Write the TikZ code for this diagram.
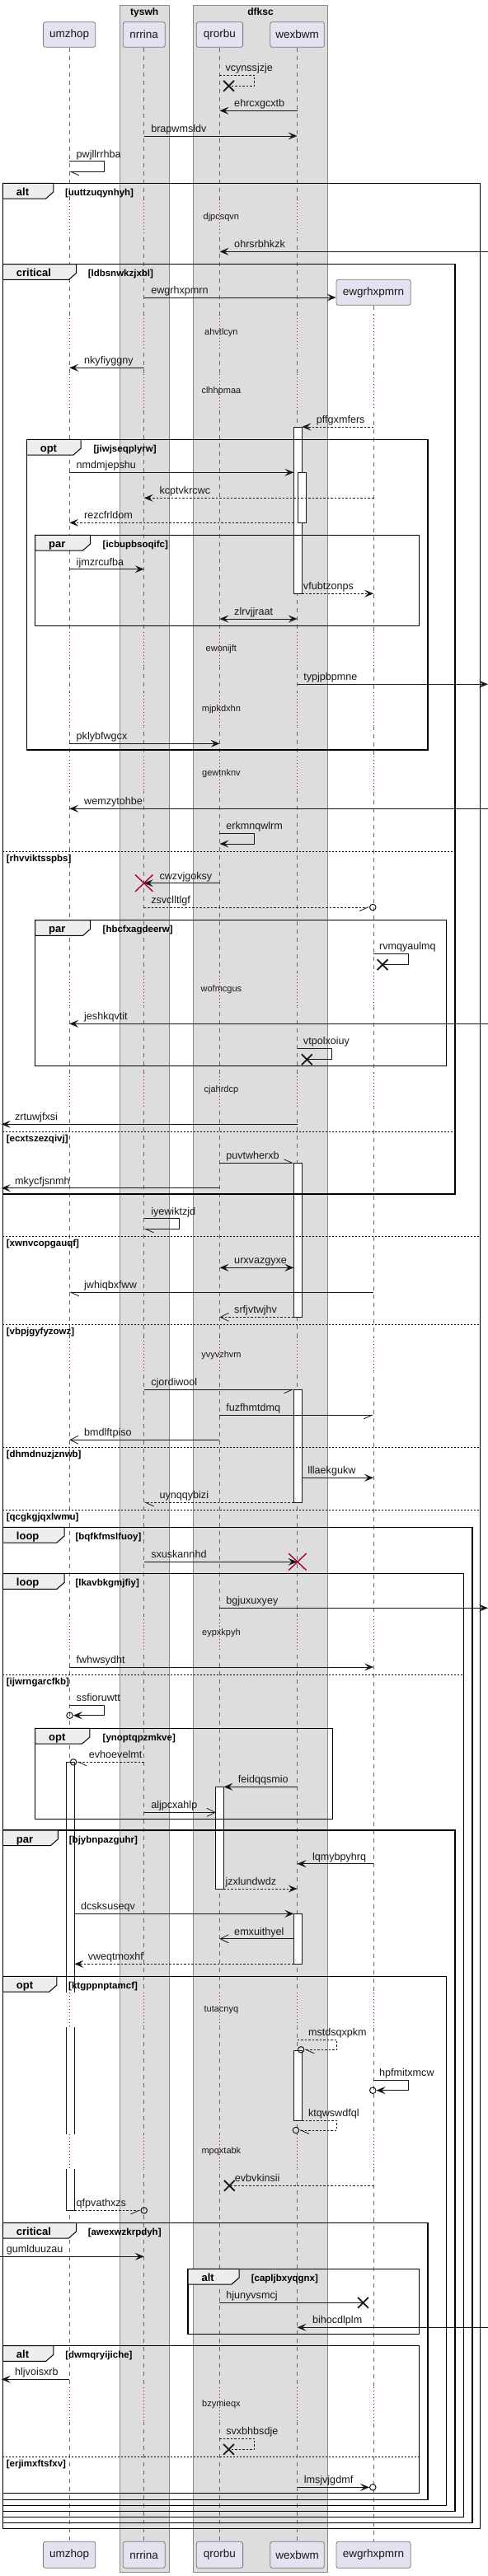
\documentclass[tikz,border=0pt]{standalone}
\usepackage{fontspec}
\setmainfont{Liberation Sans}
\usetikzlibrary{arrows.meta, positioning, calc, shapes.misc}

\definecolor{ink}{HTML}{181818}
\definecolor{partfill}{HTML}{E2E2F0}
\definecolor{partline}{HTML}{7A7A7A}
\definecolor{boxfill}{HTML}{DDDDDD}
\definecolor{boxline}{HTML}{8A8A8A}
\definecolor{tabfill}{HTML}{EEEEEE}
\definecolor{lifegray}{HTML}{666666}
\definecolor{crimson}{HTML}{A80036}

\tikzset{
  fulltip/.tip={Stealth[length=11pt, width=9pt, inset=4.5pt]},
  thintip/.tip={Straight Barb[length=10pt, width=10pt]},
  halfL/.tip={Straight Barb[length=10pt, width=9pt, harpoon]},
  halfR/.tip={Straight Barb[length=10pt, width=9pt, harpoon, swap]},
  msg/.style={draw=ink, line width=0.8pt},
  dsh/.style={dash pattern=on 2.5pt off 2pt},
  callF/.style={msg, -{fulltip}},
  retF/.style={msg, dsh, -{fulltip}},
  callO/.style={msg, -{thintip}},
  retO/.style={msg, dsh, -{thintip}},
  callHL/.style={msg, -{halfL}},
  callHR/.style={msg, -{halfR}},
  retHL/.style={msg, dsh, -{halfL}},
  retHR/.style={msg, dsh, -{halfR}},
  bothF/.style={msg, {fulltip}-{fulltip}},
  msglbl/.style={anchor=base west, inner sep=0pt, text=ink, font=\fontsize{12.6}{14}\selectfont},
  part/.style={draw=partline, fill=partfill, rounded corners=2.5pt, line width=0.8pt,
    inner sep=0pt, text=ink, font=\fontsize{13.5}{15}\selectfont},
  lifeline/.style={draw=lifegray, line width=0.6pt, dash pattern=on 5pt off 5pt},
  delayline/.style={draw=crimson, line width=0.8pt, dash pattern=on 1pt off 3pt},
  delaytxt/.style={inner sep=0pt, text=ink, font=\fontsize{11}{13}\selectfont},
  actbox/.style={draw=ink, fill=white, line width=0.8pt},
  grpframe/.style={draw=black, line width=1.4pt},
  grptab/.style={draw=black, fill=tabfill, line width=1pt},
  kw/.style={anchor=base west, inner sep=0pt, font=\bfseries\fontsize{13}{15}\selectfont},
  cond/.style={anchor=base west, inner sep=0pt, font=\bfseries\fontsize{11.5}{13}\selectfont},
  elseline/.style={draw=black, line width=0.8pt, dash pattern=on 2pt off 2pt},
  boxbg/.style={draw=boxline, fill=boxfill, line width=0.8pt},
  boxtitle/.style={anchor=base, inner sep=0pt, font=\bfseries\fontsize{12}{14}\selectfont},
  xmark/.style={cross out, draw=ink, line width=1.8pt, minimum width=11pt, minimum height=11pt, inner sep=0pt},
  destroy/.style={cross out, draw=crimson, line width=1.4pt, minimum width=20pt, minimum height=19pt, inner sep=0pt},
  ring/.style={circle, draw=ink, line width=1pt, minimum size=7.5pt, inner sep=0pt},
}

% message: style, from, to, y, label x, text
\newcommand{\msg}[6]{%
  \draw[#1] (#2 |- 0,#4) -- (#3 |- 0,#4);
  \node[msglbl] (m#6) at (#5,#4-4.5) {#6};}
% self message: [width] style, from, top y, end, label x, text
\newcommand{\selfmsg}[7][37]{%
  \draw[#2] (#3 |- 0,#4) -- ++(#1,0) |- (#5);
  \node[msglbl] (m#7) at (#6,#4-4.5) {#7};}
% group: left, top, right, bottom, tab right, keyword, cond x, cond
\newcommand{\grp}[8]{%
  \draw[grpframe] (#1,#2) rectangle (#3,#4);
  \filldraw[grptab] (#1,#2) -- (#5,#2) -- (#5,#2+10.7) -- (#5-8,#2+18.7) -- (#1,#2+18.7) -- cycle;
  \node[kw] (k#8) at (#1+14.3,#2+15) {#6};
  \node[cond] (g#8) at (#7,#2+15) {[#8]};}
% else: left, right, y, cond
\newcommand{\els}[4]{%
  \draw[elseline] (#1,#3) -- (#2,#3);
  \node[cond] (e#4) at (#1+3.7,#3+12) {[#4]};}

\begin{document}
\begin{tikzpicture}[x=1.1421pt, y=-1pt]

\useasboundingbox (0,0) rectangle (518.3,3126);

% boxes
\filldraw[boxbg] (127.3,6) rectangle (179.7,3121);
\node[boxtitle] (tyswh) at (153.4,18.5) {tyswh};
\filldraw[boxbg] (205,6) rectangle (348.3,3121);
\node[boxtitle] (dfksc) at (276.7,18.5) {dfksc};

% participants
\node[part, minimum width=63.2pt, minimum height=30.6pt] (umzhopT) at (73.7,42) {umzhop};
\node[part, minimum width=51pt, minimum height=30.6pt] (nrrinaT) at (153,42) {nrrina};
\node[part, minimum width=56.3pt, minimum height=30.6pt] (qrorbuT) at (233.3,42) {qrorbu};
\node[part, minimum width=65.5pt, minimum height=30.6pt] (wexbwmT) at (315.7,42) {wexbwm};
\node[part, minimum width=90.2pt, minimum height=31pt] (ewgrhT) at (396.7,354.8) {ewgrhxpmrn};
\node[part, minimum width=63.2pt, minimum height=32pt] (umzhopB) at (73.7,3100.3) {umzhop};
\node[part, minimum width=51pt, minimum height=32pt] (nrrinaB) at (153,3100.3) {nrrina};
\node[part, minimum width=56.3pt, minimum height=32pt] (qrorbuB) at (233.3,3100.3) {qrorbu};
\node[part, minimum width=65.5pt, minimum height=32pt] (wexbwmB) at (315.7,3100.3) {wexbwm};
\node[part, minimum width=90.2pt, minimum height=32pt] (ewgrhB) at (396.7,3100.3) {ewgrhxpmrn};

\coordinate (umzhop) at (73.7,0);
\coordinate (nrrina) at (153,0);
\coordinate (qrorbu) at (233.3,0);
\coordinate (wexbwm) at (315.7,0);
\coordinate (ewgrh) at (396.7,0);
\coordinate (umzR) at (79,0);
\coordinate (qroL) at (229.3,0);
\coordinate (qroR) at (237.7,0);
\coordinate (wexL) at (312,0);
\coordinate (wexR) at (320.7,0);
\coordinate (lEdge0) at (0,0);
\coordinate (lEdge) at (1.5,0);
\coordinate (rEdge) at (518.3,0);

\draw[lifeline] (umzhopT) -- (umzhopB);
\draw[lifeline] (nrrinaT) -- (nrrinaB);
\draw[lifeline] (qrorbuT) -- (qrorbuB);
\draw[lifeline] (wexbwmT) -- (wexbwmB);
\draw[lifeline] (ewgrhT) -- (ewgrhB);

% activations
\draw[actbox] (312,518) rectangle (320.7,720.3);
\draw[actbox] (316.3,573.3) rectangle (325,634.3);
\draw[actbox] (312,1411.3) rectangle (320.7,1598.3);
\draw[actbox] (312,1686.3) rectangle (320.7,1823.3);
\draw[actbox] (70.3,2138.3) rectangle (79,2682.3);
\draw[actbox] (229.3,2168.3) rectangle (237.7,2292);
\draw[actbox] (312,2322.3) rectangle (320.7,2383.3);
\draw[actbox] (312,2488.3) rectangle (320.7,2573.3);

% delays
\foreach \dy/\dt in {263.3/djpcsqvn, 403.3/ahvtlcyn, 475/clhhpmaa, 787.7/ewonijft,
    860.7/mjpkdxhn, 939/gewtnknv, 1200.7/wofmcgus, 1322.7/cjahrdcp, 1644.3/yvyvzhvm,
    1981.7/eypxkpyh, 2439/tutacnyq, 2610.7/mpqxtabk, 2917.7/bzymieqx}{
  \fill[white] (69.6,\dy-21) rectangle (79.8,\dy+21);
  \fill[boxfill] (151,\dy-21) rectangle (155,\dy+21);
  \fill[boxfill] (231.3,\dy-21) rectangle (235.3,\dy+21);
  \fill[boxfill] (313.7,\dy-21) rectangle (317.7,\dy+21);
  \foreach \ll in {umzhop, nrrina, qrorbu, wexbwm}
    \draw[delayline] (\ll |- 0,\dy-21) -- (\ll |- 0,\dy+21);
  \ifdim\dy pt>370pt
    \fill[white] (394.7,\dy-21) rectangle (398.7,\dy+21);
    \draw[delayline] (ewgrh |- 0,\dy-21) -- (ewgrh |- 0,\dy+21);
  \fi
  \node[delaytxt] (d\dt) at (235,\dy) {\dt};
}

% groups
\grp{3}{222.3}{510}{3068.7}{56.7}{alt}{69}{uuttzuqynhyh}
\grp{3}{320.7}{483.3}{1449}{81}{critical}{93.3}{ldbsnwkzjxbl}
\els{3}{483.3}{1033.3}{rhvviktsspbs}
\els{3}{483.3}{1373.3}{ecxtszezqivj}
\grp{28.3}{533.3}{454.3}{910}{86}{opt}{99.3}{jiwjseqplyrw}
\grp{37.3}{649.3}{445.3}{759.3}{96}{par}{109}{icbupbsoqifc}
\grp{37.3}{1116.7}{474.3}{1293.3}{96}{par}{109}{hbcfxagdeerw}
\els{3}{510}{1500.3}{xwnvcopgauqf}
\els{3}{510}{1607.3}{vbpjgyfyzowz}
\els{3}{510}{1756.3}{dhmdnuzjznwb}
\els{3}{510}{1832.7}{qcgkgjqxlwmu}
\grp{3}{1853.3}{501.7}{3061.3}{68.3}{loop}{80}{bqfkfmslfuoy}
\grp{3}{1909.7}{492.7}{3054.3}{68.3}{loop}{80}{lkavbkgmjfiy}
\els{3}{492.7}{2032}{ijwrngarcfkb}
\grp{37.3}{2097.3}{353.3}{2207.3}{95.3}{opt}{109}{ynoptqpzmkve}
\grp{3}{2221}{483.3}{3047.3}{61.7}{par}{73.3}{bjybnpazguhr}
\grp{3}{2398.3}{474.3}{3040.3}{60.3}{opt}{72.7}{ktgppnptamcf}
\grp{3}{2697.3}{454.3}{3033.3}{81}{critical}{93.3}{awexwzkrpdyh}
\grp{199.7}{2753.3}{445.3}{2832.3}{254}{alt}{266.7}{capljbxyqgnx}
\grp{3}{2846.7}{445.3}{3025.7}{56.7}{alt}{69.3}{dwmqryijiche}
\els{3}{445.3}{2981.7}{erjimxftsfxv}

% marks
\node[xmark] (xa) at (243,104.3) {};
\node[destroy] (xb) at (153,1071.7) {};
\node[xmark] (xc) at (406.3,1170.7) {};
\node[xmark] (xd) at (326,1285.7) {};
\node[destroy] (xe) at (316,1895.3) {};
\node[xmark] (xf) at (243.7,2652.3) {};
\node[xmark] (xg) at (385.7,2794.3) {};
\node[xmark] (xh) at (243,2972.3) {};
\node[ring] (ca) at (396,1101) {};
\node[ring] (cb) at (74,2081.7) {};
\node[ring] (cc) at (78,2138.3) {};
\node[ring] (cd) at (319.7,2487.3) {};
\node[ring] (ce) at (396,2536.7) {};
\node[ring] (cf) at (314.3,2585) {};
\node[ring] (cg) at (153,2682.3) {};
\node[ring] (ch) at (396,3018.3) {};

% messages
\selfmsg{msg,dsh}{qrorbu}{91}{xa.center}{239.3}{vcynssjzje}
\msg{callF}{wexbwm}{qrorbu}{134.3}{248.7}{ehrcxgcxtb}
\msg{callF}{nrrina}{wexbwm}{165}{160.3}{brapwmsldv}
\selfmsg{callHL}{umzhop}{195.7}{umzhop |- 0,208.4}{81}{pwjllrrhba}
\msg{callF}{rEdge}{qrorbu}{305.3}{248.7}{ohrsrbhkzk}
\msg{callF}{nrrina}{ewgrhT.west}{361}{160.3}{ewgrhxpmrn}
\msg{callF}{nrrina}{umzhop}{446.3}{89.3}{nkyfiyggny}
\msg{retF}{ewgrh}{wexR}{518}{336}{pffgxmfers}
\msg{callF}{umzhop}{wexL}{573.3}{81}{nmdmjepshu}
\msg{retF}{ewgrh}{nrrina}{604.3}{169.3}{kcptvkrcwc}
\msg{retF}{wexL}{umzhop}{634.3}{89.3}{rezcfrldom}
\msg{callF}{umzhop}{nrrina}{690.7}{81}{ijmzrcufba}
\msg{retF}{wexR}{ewgrh}{720.3}{322}{vfubtzonps}
\msg{bothF}{qrorbu}{wexbwm}{751}{248.7}{zlrvjjraat}
\msg{callF}{wexbwm}{rEdge}{830.3}{322.3}{typjpbpmne}
\msg{callF}{umzhop}{qrorbu}{902.3}{81}{pklybfwgcx}
\msg{callF}{rEdge}{umzhop}{981.3}{89.3}{wemzytohbe}
\selfmsg{callF}{qrorbu}{1011.3}{qrorbu |- 0,1024}{240}{erkmnqwlrm}
\msg{callF}{qrorbu}{nrrina}{1071.7}{169.3}{cwzvjgoksy}
\draw[callHR, dsh] (nrrina |- ca) -- (ca);
\node[msglbl] (mzsvclltlgf) at (160.3,1096.5) {zsvclltlgf};
\selfmsg{msg}{ewgrh}{1157.3}{xc.center}{402.7}{rvmqyaulmq}
\msg{callF}{rEdge}{umzhop}{1242.3}{89.3}{jeshkqvtit}
\selfmsg{msg}{wexbwm}{1272.3}{xd.center}{322}{vtpolxoiuy}
\msg{callF}{wexbwm}{lEdge}{1364.3}{15.7}{zrtuwjfxsi}
\msg{callHL}{qrorbu}{wexL}{1411.3}{240}{puvtwherxb}
\msg{callF}{qrorbu}{lEdge}{1441.7}{15.7}{mkycfjsnmh}
\selfmsg{callHL}{nrrina}{1478.7}{nrrina |- 0,1491.4}{160.3}{iyewiktzjd}
\msg{bothF}{qrorbu}{wexL}{1538.3}{248.7}{urxvazgyxe}
\msg{callHL}{ewgrh}{umzhop}{1568.3}{89.3}{jwhiqbxfww}
\msg{retO}{wexL}{qrorbu}{1598.3}{248.7}{srfjvtwjhv}
\msg{callHR}{nrrina}{wexL}{1686.3}{160.3}{cjordiwool}
\msg{callHR}{qrorbu}{ewgrh}{1717.3}{240}{fuzfhmtdmq}
\msg{callO}{qrorbu}{umzhop}{1747.3}{89.3}{bmdlftpiso}
\msg{callF}{wexR}{ewgrh}{1793.3}{326.7}{lllaekgukw}
\msg{retHL}{wexL}{nrrina}{1823.3}{169.3}{uynqqybizi}
\msg{callF}{nrrina}{wexbwm}{1895.3}{160.3}{sxuskannhd}
\msg{callF}{qrorbu}{rEdge}{1951.3}{240}{bgjuxuxyey}
\msg{callF}{umzhop}{ewgrh}{2023}{81}{fwhwsydht}
\selfmsg{callF}{umzhop}{2069.3}{cb}{81}{ssfioruwtt}
\draw[retHL] (nrrina |- cc) -- (cc);
\node[msglbl] (mevhoevelmt) at (94.3,2133.8) {evhoevelmt};
\msg{callF}{wexbwm}{qroR}{2168.3}{252.7}{feidqqsmio}
\msg{callO}{nrrina}{qroL}{2199.3}{160.3}{aljpcxahlp}
\msg{callF}{ewgrh}{wexbwm}{2261.7}{331.7}{lqmybpyhrq}
\msg{retF}{qroR}{wexbwm}{2292}{239.3}{jzxlundwdz}
\msg{callF}{umzR}{wexL}{2322.3}{85.7}{dcsksuseqv}
\msg{callO}{wexL}{qrorbu}{2352.7}{248.7}{emxuithyel}
\msg{retF}{wexL}{umzR}{2383.3}{93.3}{vweqtmoxhf}
\selfmsg[42]{retHL}{wexbwm}{2475}{cd}{327.3}{mstdsqxpkm}
\selfmsg{callF}{ewgrh}{2524.3}{ce}{402.7}{hpfmitxmcw}
\selfmsg{retHL}{wexR}{2573.3}{cf}{327.3}{ktqwswdfql}
\draw[msg, dsh] (ewgrh |- xf) -- (xf.center);
\node[msglbl] (mevbvkinsii) at (249.3,2647.8) {evbvkinsii};
\draw[retHR] (umzR |- cg) -- (cg);
\node[msglbl] (mqfpvathxzs) at (81,2677.8) {qfpvathxzs};
\msg{callF}{lEdge0}{nrrina}{2738.3}{6.7}{gumlduuzau}
\draw[msg] (qrorbu |- xg) -- (xg.center);
\node[msglbl] (mhjunyvsmcj) at (240,2789.8) {hjunyvsmcj};
\msg{callF}{rEdge}{wexbwm}{2824.3}{331.7}{bihocdlplm}
\msg{callF}{umzhop}{lEdge}{2887.3}{15.7}{hljvoisxrb}
\selfmsg{msg,dsh}{qrorbu}{2959}{xh.center}{240}{svxbhbsdje}
\draw[callF] (wexbwm |- ch) -- (ch);
\node[msglbl] (mlmsjvjgdmf) at (322.7,3013.8) {lmsjvjgdmf};

\end{tikzpicture}
\end{document}
